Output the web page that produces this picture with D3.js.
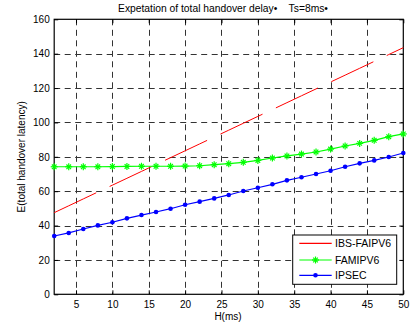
<!DOCTYPE html>
<html>
<head>
<meta charset="utf-8">
<script src="https://cdn.jsdelivr.net/npm/d3@7"></script>
<style>
  body { margin: 0; background: #fff; }
  text { font-family: "Liberation Sans", Arial, sans-serif; fill: #000; }
</style>
</head>
<body>
<svg id="chart"></svg>
<script>
// values
const hValues = [2, 4, 6, 8, 10, 12, 14, 16, 18, 20, 22, 24, 26, 28, 30, 32, 34, 36, 38, 40, 42, 44, 46, 48, 50];
const ibsFaipv6 = [47.5, 51.5, 55.5, 59.5, 63.5, 67.5, 71.5, 75.5, 79.5, 83.5, 87.5, 91.5, 95.5, 99.5, 103.5, 107.5, 111.5, 115.5, 119.5, 123.5, 127.5, 131.5, 135.5, 139.5, 143.5];
const famipv6 = [74.2, 74.2, 74.2, 74.2, 74.3, 74.4, 74.5, 74.5, 74.5, 74.6, 74.8, 75.4, 76.0, 76.8, 77.9, 79.3, 80.5, 81.6, 82.8, 84.5, 86.3, 87.8, 89.6, 91.7, 93.3];
const ipsec = [33.9, 35.7, 38.0, 40.1, 41.9, 44.2, 46.1, 47.9, 49.8, 52.1, 53.9, 55.8, 57.8, 60.1, 62.0, 64.0, 66.3, 68.1, 70.0, 71.9, 74.2, 76.2, 77.9, 79.9, 82.2];
const xTicks = [5, 10, 15, 20, 25, 30, 35, 40, 45, 50];
const yTicks = [0, 20, 40, 60, 80, 100, 120, 140, 160];
const seriesNames = ["IBS-FAIPV6", "FAMIPV6", "IPSEC"];
const seriesColors = ["#ff0000", "#00ff00", "#0000ff"];

const width = 414, height = 329;
const plotLeft = 54.2, plotRight = 403.3, plotTop = 19.3, plotBottom = 294.3;

const svg = d3.select("#chart").attr("width", width).attr("height", height);

const x = d3.scaleLinear().domain([2, 50]).range([plotLeft, plotRight]);
const y = d3.scaleLinear().domain([0, 160]).range([plotBottom, plotTop]);

// dashed grid
const grid = svg.append("g").attr("stroke", "#333").attr("stroke-width", 1).attr("stroke-dasharray", "6,4.5");
grid.selectAll("line.v").data(xTicks.filter(d => d < 50)).join("line")
    .attr("class", "v")
    .attr("x1", d => Math.round(x(d)) + 0.5).attr("x2", d => Math.round(x(d)) + 0.5)
    .attr("y1", plotTop).attr("y2", plotBottom);
grid.selectAll("line.h").data(yTicks.filter(d => d > 0 && d < 160)).join("line")
    .attr("class", "h")
    .attr("x1", plotLeft).attr("x2", plotRight)
    .attr("y1", d => Math.round(y(d)) + 0.5).attr("y2", d => Math.round(y(d)) + 0.5);

// axes with inward ticks
const xAxis = svg.append("g").attr("transform", `translate(0,${plotBottom})`)
    .call(d3.axisBottom(x).tickValues(xTicks).tickSizeInner(-4).tickSizeOuter(0).tickPadding(6.5));
const xTop = svg.append("g").attr("transform", `translate(0,${plotTop})`)
    .call(d3.axisTop(x).tickValues(xTicks).tickSizeInner(-4).tickSizeOuter(0).tickFormat(""));
const yAxis = svg.append("g").attr("transform", `translate(${plotLeft},0)`)
    .call(d3.axisLeft(y).tickValues(yTicks).tickSizeInner(-4).tickSizeOuter(0).tickPadding(4.5));
const yRight = svg.append("g").attr("transform", `translate(${plotRight},0)`)
    .call(d3.axisRight(y).tickValues(yTicks).tickSizeInner(-4).tickSizeOuter(0).tickFormat(""));
[xAxis, xTop, yAxis, yRight].forEach(a => {
    a.select(".domain").remove();
    a.selectAll("line").attr("stroke", "#000");
    a.selectAll("text").style("font-size", "10px").style("font-family", "Liberation Sans, Arial, sans-serif");
});

// box
svg.append("rect")
    .attr("x", plotLeft).attr("y", plotTop)
    .attr("width", plotRight - plotLeft).attr("height", plotBottom - plotTop)
    .attr("fill", "none").attr("stroke", "#000").attr("stroke-width", 1.2);

const line = d3.line().x((d, i) => x(hValues[i])).y(d => y(d));

// IBS-FAIPV6 (red, drawn broken)
svg.append("path").datum(ibsFaipv6)
    .attr("d", line).attr("fill", "none")
    .attr("stroke", seriesColors[0]).attr("stroke-width", 1)
    .attr("stroke-dasharray", "46.5,14.8");

// FAMIPV6 (green, star markers)
svg.append("path").datum(famipv6)
    .attr("d", line).attr("fill", "none")
    .attr("stroke", seriesColors[1]).attr("stroke-width", 1.2);

function star(g, cx, cy, color) {
    const s = 3.5, d = 2.3;
    const segs = [[-s, 0, s, 0], [0, -s, 0, s], [-d, -d, d, d], [-d, d, d, -d]];
    segs.forEach(p => g.append("line")
        .attr("x1", cx + p[0]).attr("y1", cy + p[1])
        .attr("x2", cx + p[2]).attr("y2", cy + p[3])
        .attr("stroke", color).attr("stroke-width", 1.2));
}
const stars = svg.append("g");
famipv6.forEach((v, i) => star(stars, x(hValues[i]), y(v), seriesColors[1]));

// IPSEC (blue, dot markers)
svg.append("path").datum(ipsec)
    .attr("d", line).attr("fill", "none")
    .attr("stroke", seriesColors[2]).attr("stroke-width", 1.2);
svg.append("g").selectAll("circle").data(ipsec).join("circle")
    .attr("cx", (d, i) => x(hValues[i])).attr("cy", d => y(d))
    .attr("r", 2.3).attr("fill", seriesColors[2]);

// titles
svg.append("text").attr("x", 223).attr("y", 11.5).attr("text-anchor", "middle")
    .style("font-size", "10.3px").style("white-space", "pre")
    .text("Expetation of total handover delay\u2022    Ts=8ms\u2022");
svg.append("text").attr("x", 228).attr("y", 319.5).attr("text-anchor", "middle")
    .style("font-size", "10px").text("H(ms)");
svg.append("text").attr("transform", `translate(25,${(plotTop + plotBottom) / 2}) rotate(-90)`)
    .attr("text-anchor", "middle").style("font-size", "10px")
    .text("E(total handover latency)");

// legend
const legend = svg.append("g");
legend.append("rect").attr("x", 292.7).attr("y", 235)
    .attr("width", 104).attr("height", 49.3)
    .attr("fill", "#fff").attr("stroke", "#000").attr("stroke-width", 1);
const legendY = [243.3, 260, 275.3];
seriesNames.forEach((name, i) => {
    legend.append("line").attr("x1", 299.3).attr("x2", 331.7)
        .attr("y1", legendY[i]).attr("y2", legendY[i])
        .attr("stroke", seriesColors[i]).attr("stroke-width", 1.2);
    if (i === 1) star(legend, 315.5, legendY[i], seriesColors[i]);
    if (i === 2) legend.append("circle").attr("cx", 315.5).attr("cy", legendY[i])
        .attr("r", 2.3).attr("fill", seriesColors[i]);
    legend.append("text").attr("x", 335).attr("y", legendY[i] + 3.7)
        .style("font-size", "10.5px").text(name);
});
</script>
</body>
</html>
